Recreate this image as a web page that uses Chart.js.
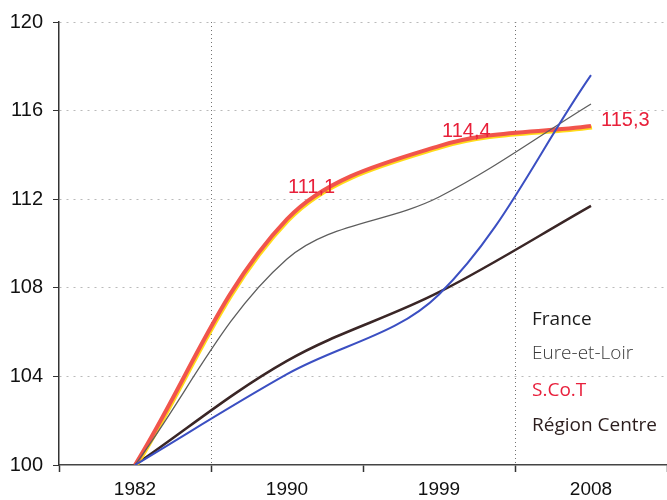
<!DOCTYPE html>
<html>
<head>
<meta charset="utf-8">
<script src="https://cdn.jsdelivr.net/npm/chart.js@4/dist/chart.umd.min.js"></script>
<style>
  html, body { margin: 0; padding: 0; background: #fff; overflow: hidden; }
  #wrap { width: 667px; height: 500px; }
</style>
</head>
<body>
<div id="wrap"><canvas id="popChart"></canvas></div>
<script>
// census years, base 100 in 1982
const years = ['1982', '1990', '1999', '2008'];
const france       = [100, 104.1, 107.7, 117.6];
const eureEtLoir   = [100, 109.3, 112.1, 116.3];
const scot         = [100, 111.1, 114.4, 115.3];
const regionCentre = [100, 104.7, 107.8, 111.7];
const seriesNames  = ['France', 'Eure-et-Loir', 'S.Co.T', 'Région Centre'];
const yTicks = [100, 104, 108, 112, 116, 120];

const lineColors = ['#3b4fc2', '#5e5e5e', '#f1544c', '#3a2626'];
const lineWidths = [2, 1.3, 4, 2.5];
const textColors = ['#1c1c1c', '#3a3a3a', '#e8203c', '#2b1d1d'];

// yellow fringe under the S.Co.T curve
const glowPlugin = {
  id: 'glow',
  beforeDatasetDraw(chart, args) {
    if (args.index !== 2) return;
    const ctx = chart.ctx;
    ctx.save();
    ctx.shadowColor = 'rgba(255, 215, 0, 0.9)';
    ctx.shadowOffsetX = 1;
    ctx.shadowOffsetY = 1.5;
  },
  afterDatasetDraw(chart, args) {
    if (args.index === 2) chart.ctx.restore();
  }
};

// S.Co.T values written next to the curve
const valueLabels = {
  id: 'valueLabels',
  afterDatasetsDraw(chart, args, opts) {
    const ctx = chart.ctx;
    const meta = chart.getDatasetMeta(2);
    ctx.save();
    ctx.font = '20px "Liberation Sans", Arial, sans-serif';
    ctx.fillStyle = '#e8203a';
    ctx.textAlign = 'left';
    ctx.textBaseline = 'middle';
    scot.forEach(function (v, i) {
      const off = opts.offsets[i];
      if (!off) return;
      const pt = meta.data[i];
      ctx.fillText(v.toFixed(1).replace('.', ','), pt.x + off[0], pt.y + off[1]);
    });
    ctx.restore();
  }
};

// text-only legend inside the plot, lower right
const textLegend = {
  id: 'textLegend',
  afterDraw(chart) {
    const ctx = chart.ctx;
    const area = chart.chartArea;
    const x = area.right - 135;
    const y0 = area.bottom - 145;
    const steps = [0, 34, 71, 106];
    ctx.save();
    ctx.textAlign = 'left';
    ctx.textBaseline = 'middle';
    seriesNames.forEach(function (name, i) {
      ctx.font = (i === 1 ? '300 ' : '') + '19px "Open Sans", sans-serif';
      ctx.fillStyle = textColors[i];
      ctx.fillText(name, x, y0 + steps[i]);
    });
    ctx.restore();
  }
};

const seriesData = [france, eureEtLoir, scot, regionCentre];

new Chart(document.getElementById('popChart'), {
  type: 'line',
  data: {
    labels: years,
    datasets: seriesData.map(function (d, i) {
      return {
        label: seriesNames[i],
        data: d,
        borderColor: lineColors[i],
        borderWidth: lineWidths[i],
        pointRadius: 0,
        tension: 0.35,
        fill: false
      };
    })
  },
  options: {
    responsive: true,
    maintainAspectRatio: false,
    animation: false,
    layout: { padding: { top: 16, right: 0, bottom: 0, left: 0 } },
    plugins: {
      legend: { display: false },
      tooltip: { enabled: false },
      valueLabels: { offsets: [null, [1, -32], [3, -15], [10, -6]] }
    },
    scales: {
      x: {
        type: 'category',
        offset: true,
        afterFit(scale) { scale.height = 35; },
        grid: {
          offset: true,
          color: function (c) {
            return (c.index === 1 || c.index === 3) ? 'rgba(80,80,80,0.8)' : 'rgba(0,0,0,0)';
          },
          tickColor: '#333',
          tickLength: 7,
          tickWidth: 1.5,
          tickBorderDash: [],
          lineWidth: 1
        },
        border: { color: '#444', width: 1.5, dash: [1, 3] },
        ticks: {
          color: '#111',
          padding: 6,
          font: { family: '"Liberation Sans", Arial, sans-serif', size: 19 }
        }
      },
      y: {
        min: 100,
        max: 120,
        afterFit(scale) { scale.width = 59; },
        afterBuildTicks(scale) {
          scale.ticks = yTicks.map(function (v) { return { value: v }; });
        },
        border: { color: '#333', width: 1.5, dash: [2, 5] },
        grid: {
          color: function (c) {
            return c.index === 0 ? 'rgba(0,0,0,0)' : 'rgba(140,140,140,0.6)';
          },
          tickColor: '#333',
          tickLength: 6,
          tickBorderDash: [],
          lineWidth: 1
        },
        ticks: {
          color: '#111',
          padding: 10,
          font: { family: '"Liberation Sans", Arial, sans-serif', size: 20 }
        }
      }
    }
  },
  plugins: [glowPlugin, valueLabels, textLegend]
});
</script>
</body>
</html>
